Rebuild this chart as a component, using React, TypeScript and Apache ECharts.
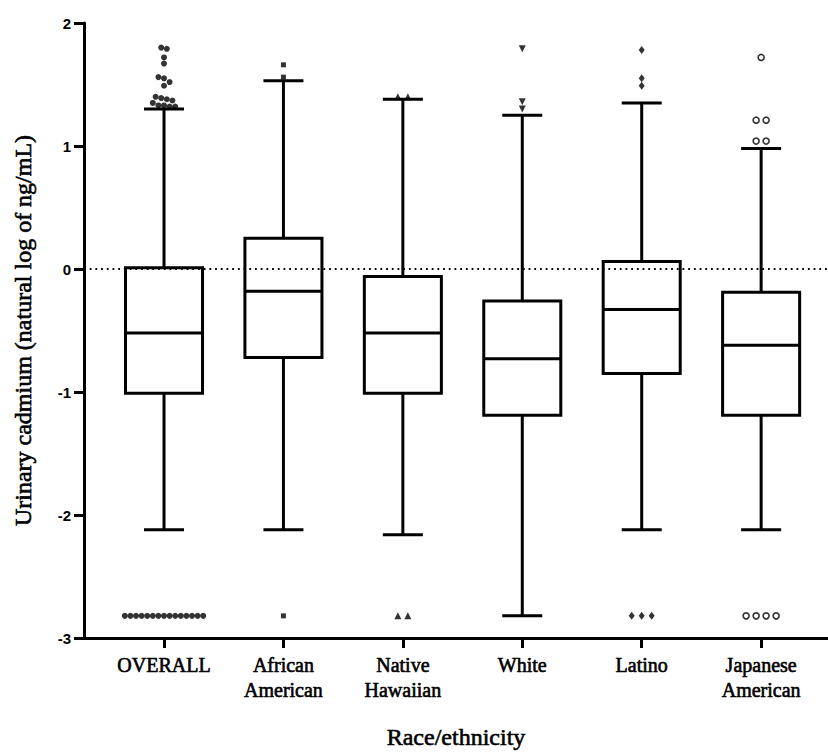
import React, { useEffect, useRef } from 'react';
import * as echarts from 'echarts';

const categories = ['OVERALL', 'African\nAmerican', 'Native\nHawaiian', 'White', 'Latino', 'Japanese\nAmerican'];
const categoryIndex = [0, 1, 2, 3, 4, 5];

// Box plot statistics (natural log of ng/mL)
const whiskerLow = [-2.12, -2.12, -2.16, -2.82, -2.12, -2.12];
const quartile1 = [-1.01, -0.72, -1.01, -1.19, -0.85, -1.19];
const medians = [-0.52, -0.18, -0.52, -0.73, -0.33, -0.62];
const quartile3 = [0.01, 0.25, -0.06, -0.26, 0.06, -0.19];
const whiskerHigh = [1.30, 1.53, 1.38, 1.25, 1.35, 0.98];

// Outliers per group
const outOverall = [1.80, 1.79, 1.72, 1.67, 1.56, 1.55, 1.52, 1.49, 1.40, 1.39, 1.38, 1.37, 1.35, 1.33, 1.33, 1.32, 1.32,
  -2.82, -2.82, -2.82, -2.82, -2.82, -2.82, -2.82, -2.82, -2.82, -2.82, -2.82, -2.82, -2.82, -2.82, -2.82];
const outAfrican = [1.66, 1.56, -2.82];
const outNative = [1.40, 1.40, -2.82, -2.82];
const outWhite = [1.79, 1.36, 1.30];
const outLatino = [1.78, 1.55, 1.49, -2.82, -2.82, -2.82];
const outJapanese = [1.72, 1.21, 1.21, 1.04, 1.04, -2.82, -2.82, -2.82, -2.82];
const outliers = [outOverall, outAfrican, outNative, outWhite, outLatino, outJapanese];

const yTicks = { min: -3, max: 2, interval: 1 };
const X_MIN = -0.67;
const X_MAX = 5.56;

// styling / layout constants
const BOX_W = 0.645;
const CAP_W = 0.335;
const PX_PER_UNIT = 123;
const rowSpacing = [5.6, 10, 10, 10, 10, 10];
const symbols = ['circle', 'rect', 'triangle', 'path://M0,0L10,0L5,9Z', 'diamond', 'circle'];
const symbolSizes: any[] = [6, 5, 7, 7, [6, 8], 6];

function spreadRows(values: number[], spacing: number) {
  const sorted = values.map((v, i) => ({ v, i })).sort((a, b) => b.v - a.v);
  const tol = 6 / PX_PER_UNIT;
  const res: { v: number; dx: number }[] = [];
  let k = 0;
  while (k < sorted.length) {
    const start = sorted[k].v;
    const row: number[] = [];
    while (k < sorted.length && start - sorted[k].v < tol) {
      row.push(sorted[k].v);
      k++;
    }
    row.forEach((v, j) => res.push({ v, dx: (j - (row.length - 1) / 2) * spacing }));
  }
  return res;
}

export default function App() {
  const ref = useRef<HTMLDivElement>(null);
  useEffect(() => {
    document.body.style.margin = '0';
    const chart = echarts.init(ref.current!, null, { renderer: 'svg' });
    const boxData = categoryIndex.map((i) => [i, whiskerLow[i], quartile1[i], medians[i], quartile3[i], whiskerHigh[i]]);
    const serifText = {
      fontFamily: 'Liberation Serif',
      fontWeight: 'normal',
      color: '#000',
      textBorderColor: '#000',
      textBorderWidth: 0.6,
    };
    const scatterSeries = categoryIndex.map((ci) => ({
      type: 'scatter',
      symbol: symbols[ci],
      symbolSize: symbolSizes[ci],
      itemStyle: ci === 5
        ? { color: '#fff', borderColor: '#000', borderWidth: 1.6 }
        : { color: '#000' },
      z: 5,
      data: spreadRows(outliers[ci], rowSpacing[ci]).map((p) => ({ value: [ci, p.v], symbolOffset: [p.dx, 0] })),
    }));
    chart.setOption({
      animation: false,
      grid: { left: 84, right: 0, top: 23, bottom: 116, containLabel: false, outerBoundsMode: 'none' },
      xAxis: {
        type: 'value',
        min: X_MIN,
        max: X_MAX,
        name: 'Race/ethnicity',
        nameLocation: 'middle',
        nameGap: 87,
        nameTextStyle: { ...serifText, fontSize: 24 },
        axisLine: { show: true, onZero: false, lineStyle: { color: '#000', width: 3 } },
        axisTick: { show: true, customValues: categoryIndex, length: 10, lineStyle: { color: '#000', width: 3 } },
        axisLabel: {
          ...serifText,
          customValues: categoryIndex,
          formatter: (v: number) => categories[Math.round(v)] ?? '',
          fontSize: 20,
          lineHeight: 25,
          margin: 14,
        },
        splitLine: { show: false },
      },
      yAxis: {
        type: 'value',
        min: yTicks.min,
        max: yTicks.max,
        interval: yTicks.interval,
        name: 'Urinary cadmium (natural log of ng/mL)',
        nameLocation: 'middle',
        nameGap: 49,
        nameTextStyle: { ...serifText, fontSize: 24 },
        axisLine: { show: true, onZero: false, lineStyle: { color: '#000', width: 3 } },
        axisTick: { show: true, length: 10, lineStyle: { color: '#000', width: 3 } },
        axisLabel: { fontFamily: 'Liberation Sans', fontWeight: 'bold', fontSize: 15, color: '#000', margin: 13 },
        splitLine: { show: false },
      },
      series: [
        {
          type: 'line',
          data: [[X_MIN, 0], [X_MAX, 0]],
          symbol: 'none',
          lineStyle: { color: '#000', width: 1.8, type: [1.8, 3.9] },
          z: 1,
        },
        {
          type: 'custom',
          data: boxData,
          encode: { x: 0, y: [1, 2, 3, 4, 5] },
          z: 3,
          renderItem: (params: any, api: any) => {
            const i = api.value(0);
            const pLo = api.coord([i, api.value(1)]);
            const pQ1 = api.coord([i, api.value(2)]);
            const pMed = api.coord([i, api.value(3)]);
            const pQ3 = api.coord([i, api.value(4)]);
            const pHi = api.coord([i, api.value(5)]);
            const unit = api.size([1, 0])[0];
            const bw = (unit * BOX_W) / 2;
            const cw = (unit * CAP_W) / 2;
            const x = pQ1[0];
            const style = { stroke: '#000', lineWidth: 3, fill: 'none' };
            return {
              type: 'group',
              children: [
                { type: 'line', shape: { x1: x, y1: pQ3[1], x2: x, y2: pHi[1] }, style },
                { type: 'line', shape: { x1: x - cw, y1: pHi[1], x2: x + cw, y2: pHi[1] }, style },
                { type: 'line', shape: { x1: x, y1: pQ1[1], x2: x, y2: pLo[1] }, style },
                { type: 'line', shape: { x1: x - cw, y1: pLo[1], x2: x + cw, y2: pLo[1] }, style },
                { type: 'rect', shape: { x: x - bw, y: pQ3[1], width: 2 * bw, height: pQ1[1] - pQ3[1] }, style },
                { type: 'line', shape: { x1: x - bw, y1: pMed[1], x2: x + bw, y2: pMed[1] }, style },
              ],
            };
          },
        },
        ...scatterSeries,
      ],
    });
    return () => chart.dispose();
  }, []);
  return <div ref={ref} style={{ width: 828, height: 754 }} />;
}
